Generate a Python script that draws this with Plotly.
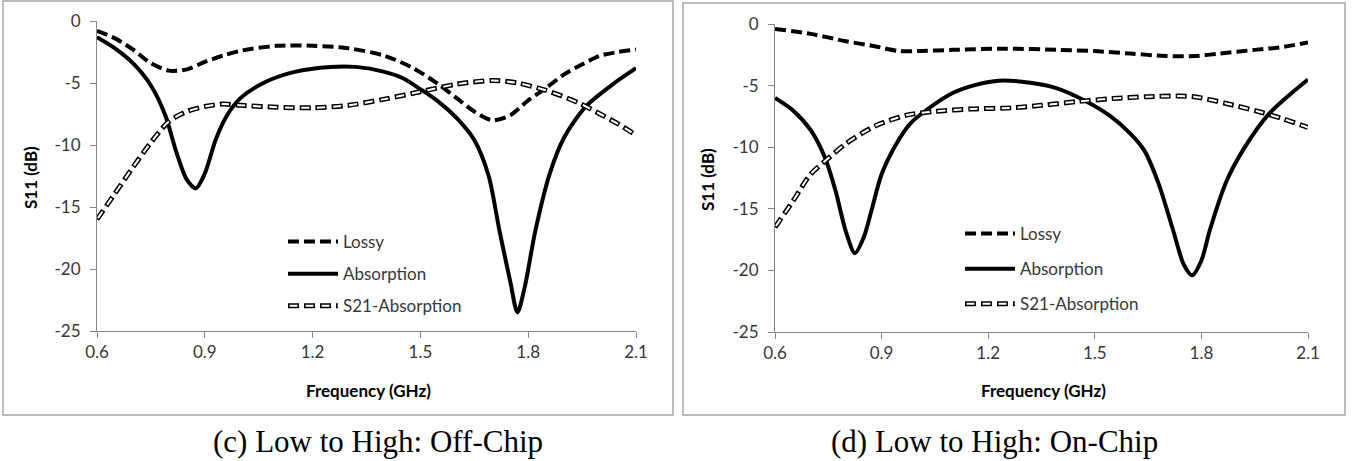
import plotly.graph_objects as go

# ---------------- Data: panel (c) Off-Chip ----------------
lossy_c_f = [0.60, 0.65, 0.70, 0.75, 0.80, 0.85, 0.90, 0.95, 1.00, 1.10, 1.20, 1.30, 1.40, 1.48, 1.55, 1.60, 1.65, 1.70, 1.75, 1.80, 1.85, 1.90, 1.95, 2.00, 2.05, 2.10]
lossy_c = [-0.8, -1.4, -2.3, -3.4, -4.0, -3.9, -3.3, -2.8, -2.4, -2.0, -2.0, -2.2, -2.8, -3.8, -5.1, -6.2, -7.3, -8.0, -7.6, -6.4, -5.4, -4.3, -3.5, -2.8, -2.5, -2.3]

absorb_c_f = [0.60, 0.65, 0.70, 0.75, 0.79, 0.82, 0.85, 0.875, 0.90, 0.93, 0.96, 1.00, 1.07, 1.15, 1.25, 1.32, 1.40, 1.45, 1.50, 1.55, 1.60, 1.65, 1.69, 1.72, 1.75, 1.77, 1.79, 1.82, 1.86, 1.90, 1.96, 2.04, 2.10]
absorb_c = [-1.3, -2.2, -3.4, -5.2, -7.6, -10.5, -12.8, -13.5, -12.3, -9.6, -7.7, -6.2, -4.9, -4.1, -3.7, -3.7, -4.1, -4.6, -5.5, -6.5, -7.8, -9.6, -12.5, -16.9, -21.0, -23.5, -21.5, -16.9, -12.3, -9.4, -6.9, -5.0, -3.8]

s21_c_f = [0.60, 0.65, 0.70, 0.75, 0.80, 0.85, 0.90, 0.95, 1.00, 1.10, 1.20, 1.30, 1.40, 1.50, 1.60, 1.70, 1.77, 1.85, 1.94, 2.00, 2.05, 2.10]
s21_c = [-16.0, -13.9, -11.8, -9.8, -8.1, -7.3, -6.9, -6.7, -6.8, -6.95, -7.0, -6.8, -6.3, -5.7, -5.1, -4.8, -5.0, -5.6, -6.6, -7.5, -8.3, -9.2]

# ---------------- Data: panel (d) On-Chip ----------------
lossy_d_f = [0.60, 0.70, 0.80, 0.88, 0.95, 1.00, 1.10, 1.25, 1.40, 1.50, 1.60, 1.70, 1.78, 1.85, 1.95, 2.02, 2.10]
lossy_d = [-0.4, -0.8, -1.4, -1.8, -2.2, -2.2, -2.1, -2.0, -2.1, -2.2, -2.4, -2.6, -2.6, -2.4, -2.1, -1.9, -1.5]

absorb_d_f = [0.60, 0.65, 0.70, 0.74, 0.77, 0.80, 0.825, 0.85, 0.87, 0.90, 0.94, 0.98, 1.03, 1.10, 1.17, 1.23, 1.30, 1.38, 1.45, 1.54, 1.60, 1.64, 1.68, 1.72, 1.75, 1.774, 1.80, 1.824, 1.87, 1.92, 1.99, 2.05, 2.10]
absorb_d = [-6.0, -7.0, -8.6, -10.8, -13.5, -16.9, -18.6, -17.3, -15.3, -12.2, -9.8, -8.1, -6.9, -5.6, -4.9, -4.6, -4.7, -5.1, -5.9, -7.4, -8.9, -10.3, -13.0, -16.7, -19.5, -20.4, -19.2, -16.7, -12.8, -10.1, -7.3, -5.7, -4.5]

s21_d_f = [0.60, 0.65, 0.70, 0.75, 0.80, 0.88, 0.97, 1.05, 1.15, 1.27, 1.35, 1.45, 1.55, 1.65, 1.73, 1.78, 1.87, 1.96, 2.03, 2.10]
s21_d = [-16.5, -14.4, -12.2, -10.9, -9.7, -8.3, -7.4, -7.1, -6.9, -6.8, -6.6, -6.3, -6.05, -5.9, -5.85, -5.9, -6.45, -7.1, -7.7, -8.4]

series_names = ["Lossy", "Absorption", "S21-Absorption"]
x_ticks = [0.6, 0.9, 1.2, 1.5, 1.8, 2.1]
y_ticks = [0, -5, -10, -15, -20, -25]
captions = ["(c) Low to High: Off-Chip", "(d) Low to High: On-Chip"]
x_title = "Frequency (GHz)"
y_title = "S11 (dB)"

FONT = "Lato, 'Open Sans', sans-serif"
TXT = "#383838"
AXC = "#868686"
FS = 17

W, H = 1352, 461
def px(x): return x / W
def py(y): return 1 - y / H

# legend placement (left edge, top) and inter-item gap for each panel
legend_cfg = {
    "legend": dict(x=283, y=224, gap=7),
    "legend2": dict(x=960, y=216, gap=10),
}
ITEM_H = max(FS * 1.3, 16) + 3

fig = go.Figure()

panels = [
    (lossy_c_f, lossy_c, absorb_c_f, absorb_c, s21_c_f, s21_c, "x", "y", "legend", "legend3"),
    (lossy_d_f, lossy_d, absorb_d_f, absorb_d, s21_d_f, s21_d, "x2", "y2", "legend2", "legend4"),
]

S21_DASH_OUT = "11px,5px"
S21_DASH_IN = "0px,1.5px,8px,6.5px"

for lf, lv, af, av, sf, sv, xa, ya, lg, lg_over in panels:
    fig.add_trace(go.Scatter(x=lf, y=lv, mode="lines", name=series_names[0],
                             line=dict(color="black", width=4, dash="11px,5px", shape="spline", smoothing=0.8),
                             xaxis=xa, yaxis=ya, legend=lg, legendgroup=lg + "a"))
    fig.add_trace(go.Scatter(x=af, y=av, mode="lines", name=series_names[1],
                             line=dict(color="black", width=4, shape="spline", smoothing=0.8),
                             xaxis=xa, yaxis=ya, legend=lg, legendgroup=lg + "b"))
    fig.add_trace(go.Scatter(x=sf, y=sv, mode="lines", name=series_names[2],
                             line=dict(color="black", width=5, dash=S21_DASH_OUT, shape="spline", smoothing=0.8),
                             xaxis=xa, yaxis=ya, legend=lg, legendgroup=lg + "c"))
    # white core of the outlined dashes (its legend sample is overlaid on the S21 entry)
    fig.add_trace(go.Scatter(x=sf, y=sv, mode="lines", name=series_names[2],
                             line=dict(color="white", width=2, dash=S21_DASH_IN, shape="spline", smoothing=0.8),
                             xaxis=xa, yaxis=ya, legend=lg_over, hoverinfo="skip"))

axis_common = dict(range=[0.6, 2.1], tickvals=x_ticks, ticktext=[f"{v:.1f}" for v in x_ticks],
                   showgrid=False, zeroline=False, showline=True, linecolor=AXC, linewidth=1,
                   ticks="outside", ticklen=6, tickcolor=AXC, automargin=False,
                   tickfont=dict(family=FONT, size=FS, color=TXT), fixedrange=True)
yaxis_common = dict(range=[-25, 0], tickvals=y_ticks, ticktext=[str(v) for v in y_ticks],
                    showgrid=False, zeroline=False,
                    showline=True, linecolor=AXC, linewidth=1, ticks="outside", ticklen=6, tickcolor=AXC,
                    ticklabelstandoff=6,
                    automargin=False, tickfont=dict(family=FONT, size=FS, color=TXT), fixedrange=True)

def legend_dict(name):
    c = legend_cfg[name]
    return dict(x=px(c["x"]), y=py(c["y"]), xanchor="left", yanchor="top", bgcolor="rgba(0,0,0,0)",
                font=dict(family=FONT, size=FS, color=TXT), traceorder="grouped",
                tracegroupgap=c["gap"], itemwidth=50)

leg3 = legend_dict("legend")
leg3["y"] = py(legend_cfg["legend"]["y"] + 2 * (ITEM_H + legend_cfg["legend"]["gap"]))
leg3["font"] = dict(family=FONT, size=FS, color="rgba(0,0,0,0)")
leg4 = legend_dict("legend2")
leg4["y"] = py(legend_cfg["legend2"]["y"] + 2 * (ITEM_H + legend_cfg["legend2"]["gap"]))
leg4["font"] = dict(family=FONT, size=FS, color="rgba(0,0,0,0)")

fig.update_layout(
    width=W, height=H, margin=dict(l=0, r=0, t=0, b=0, autoexpand=False),
    paper_bgcolor="white", plot_bgcolor="white",
    xaxis=dict(domain=[px(97), px(636)], anchor="y", **axis_common),
    yaxis=dict(domain=[py(331), py(21)], anchor="x", **yaxis_common),
    xaxis2=dict(domain=[px(775), px(1308)], anchor="y2", **axis_common),
    yaxis2=dict(domain=[py(332), py(24)], anchor="x2", **yaxis_common),
    legend=legend_dict("legend"),
    legend2=legend_dict("legend2"),
    legend3=leg3,
    legend4=leg4,
    showlegend=True,
)

# panel frames
fig.add_shape(type="rect", xref="paper", yref="paper", x0=px(3), x1=px(673), y0=py(415), y1=py(1),
              line=dict(color="#a6a6a6", width=1.5), layer="below")
fig.add_shape(type="rect", xref="paper", yref="paper", x0=px(683), x1=px(1345), y0=py(415), y1=py(3),
              line=dict(color="#a6a6a6", width=1.5), layer="below")

# axis titles
for cx, cy_x, yx, cy_y in [(368, 390, 30, 178), (1043, 390, 708, 180)]:
    fig.add_annotation(text="<b>" + x_title + "</b>", x=px(cx), y=py(cy_x), xref="paper", yref="paper",
                       xanchor="center", yanchor="middle", showarrow=False,
                       font=dict(family=FONT, size=FS, color="black"))
    fig.add_annotation(text="<b>" + y_title + "</b>", x=px(yx), y=py(cy_y), xref="paper", yref="paper",
                       xanchor="center", yanchor="middle", showarrow=False, textangle=-90,
                       font=dict(family=FONT, size=FS, color="black"))

# captions
for cx, txt in [(378, captions[0]), (994, captions[1])]:
    fig.add_annotation(text=txt, x=px(cx), y=py(441), xref="paper", yref="paper", showarrow=False,
                       xanchor="center", yanchor="middle",
                       font=dict(family="'Liberation Serif', 'Times New Roman', serif", size=31, color="black"))

fig.write_html("out.html", config={"displayModeBar": False},
               post_script="document.body.style.margin='0';document.body.style.overflow='hidden';")
